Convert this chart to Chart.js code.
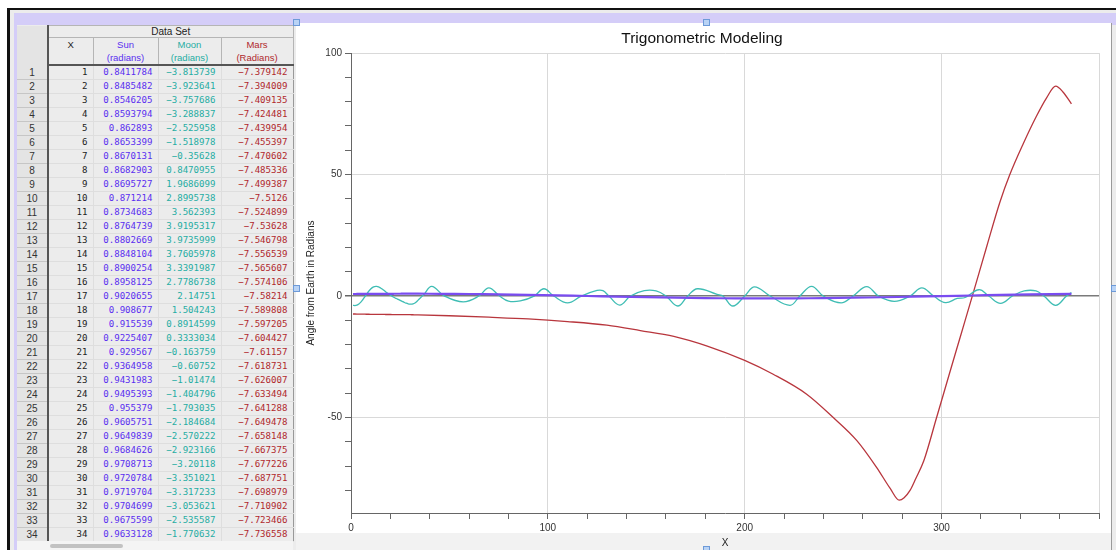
<!DOCTYPE html>
<html lang="en">
<head>
<meta charset="UTF-8">
<title>Trigonometric Modeling</title>
<style>
    body {
        margin: 0;
        width: 1116px;
        height: 550px;
        overflow: hidden;
        background: #fff;
        position: relative;
        font-family: "Liberation Sans", Arial, sans-serif;
    }
    .abs { position: absolute; }
    #frameTop { left: 7px; top: 8px; width: 1109px; height: 2px; background: #111; }
    #frameLeft { left: 7px; top: 8px; width: 3px; height: 542px; background: #111; }
    #bg { left: 10px; top: 10px; width: 1106px; height: 540px; background: #ececec; }
    #bandTop { left: 14px; top: 13px; width: 1102px; height: 12px; background: #d4cdf8; }
    #bandLeft { left: 14px; top: 13px; width: 3px; height: 537px; background: #d4cdf8; }
    #panel { left: 296px; top: 23px; width: 816px; height: 510px; background: #fff; }
    #panelFoot { left: 296px; top: 533px; width: 816px; height: 17px; background: #f2f2f2; }
    #panelEdge { left: 1111px; top: 23px; width: 1px; height: 527px; background: #9a9a9a; }
    #chartBox { left: 297px; top: 23px; width: 815px; height: 527px; }
    #sheet { left: 17px; top: 25px; }
    #scroll { left: 17px; top: 541px; width: 276px; height: 9px; background: #f4f4f4; }
    #thumb { left: 50px; top: 544px; width: 73px; height: 4px; background: #c2c2c2; border-radius: 2px; }
    .handle { width: 5px; height: 5px; background: #b9d3f5; border: 1px solid #6d9ad8; }

    table { border-collapse: collapse; table-layout: fixed; }
    td, th { overflow: hidden; white-space: nowrap; padding: 0; }
    th { background: #ececec; font-weight: normal; font-size: 9.5px; color: #222; border: 1px solid #b5b5b5; }
    th.set { height: 11px; font-size: 10px; line-height: 11px; }
    th.col { height: 26px; line-height: 13px; border-bottom: 2px solid #555; }
    th.corner { background: #e4e4e4; border: none; border-right: 2px solid #555; }
    tr.row { height: 14px; }
    td.num { background: #e4e4e4; text-align: center; font-size: 10px; color: #333;
             border-bottom: 1px solid #c6c6c6; border-right: 2px solid #555; }
    td.val { text-align: right; padding-right: 5px; font-family: "DejaVu Sans Mono", monospace;
             font-size: 9.1px; border: 1px solid #dedede; line-height: 13px; }
    .cx { color: #222; }
    .cs { color: #5a2ff0; }
    .cm { color: #26aca3; }
    .cr { color: #b0282c; }
    td.last { border-right: 1px solid #999; }
</style>
<script src="https://cdn.jsdelivr.net/npm/chart.js"></script>
</head>
<body>

<div class="abs" id="frameTop"></div>
<div class="abs" id="bg"></div>
<div class="abs" id="bandTop"></div>
<div class="abs" id="bandLeft"></div>
<div class="abs" id="frameLeft"></div>
<div class="abs" id="panel"></div>
<div class="abs" id="panelFoot"></div>
<div class="abs" id="panelEdge"></div>

<div class="abs" id="sheet"></div>
<div class="abs" id="scroll"></div>
<div class="abs" id="thumb"></div>

<div class="abs" id="chartBox"><canvas id="chart"></canvas></div>

<div class="abs handle" style="left:293px; top:19px;"></div>
<div class="abs handle" style="left:703px; top:19px;"></div>
<div class="abs handle" style="left:293px; top:285px;"></div>
<div class="abs handle" style="left:1111px; top:285px;"></div>
<div class="abs handle" style="left:703px; top:546px;"></div>

<script>
// table rows (days 1-34), as shown in the data set
const dayTable = [1, 2, 3, 4, 5, 6, 7, 8, 9, 10, 11, 12, 13, 14, 15, 16, 17,
                  18, 19, 20, 21, 22, 23, 24, 25, 26, 27, 28, 29, 30, 31, 32, 33, 34];
const sunTable = [0.8411784, 0.8485482, 0.8546205, 0.8593794, 0.862893, 0.8653399, 0.8670131,
                  0.8682903, 0.8695727, 0.871214, 0.8734683, 0.8764739, 0.8802669, 0.8848104,
                  0.8900254, 0.8958125, 0.9020655, 0.908677, 0.915539, 0.9225407, 0.929567,
                  0.9364958, 0.9431983, 0.9495393, 0.955379, 0.9605751, 0.9649839, 0.9684626,
                  0.9708713, 0.9720784, 0.9719704, 0.9704699, 0.9675599, 0.9633128];
const moonTable = [-3.813739, -3.923641, -3.757686, -3.288837, -2.525958, -1.518978, -0.35628,
                   0.8470955, 1.9686099, 2.8995738, 3.562393, 3.9195317, 3.9735999, 3.7605978,
                   3.3391987, 2.7786738, 2.14751, 1.504243, 0.8914599, 0.3333034, -0.163759,
                   -0.60752, -1.01474, -1.404796, -1.793035, -2.184684, -2.570222, -2.923166,
                   -3.20118, -3.351021, -3.317233, -3.053621, -2.535587, -1.770632];
const marsTable = [-7.379142, -7.394009, -7.409135, -7.424481, -7.439954, -7.455397, -7.470602,
                   -7.485336, -7.499387, -7.5126, -7.524899, -7.53628, -7.546798, -7.556539,
                   -7.565607, -7.574106, -7.58214, -7.589808, -7.597205, -7.604427, -7.61157,
                   -7.618731, -7.626007, -7.633494, -7.641288, -7.649478, -7.658148, -7.667375,
                   -7.677226, -7.687751, -7.698979, -7.710902, -7.723466, -7.736558];

// rest of the year
const sunDays = [45, 60, 75, 90, 105, 120, 135, 150, 165, 180, 195, 210, 225, 240, 255, 270, 285, 300, 315, 330, 345, 366];
const sunRest = [0.93, 0.84, 0.70, 0.51, 0.27, 0.02, -0.24, -0.47, -0.68, -0.84, -0.94, -0.97, -0.94, -0.84,
                 -0.69, -0.49, -0.27, -0.03, 0.22, 0.47, 0.70, 0.90];

const moonDays = [37, 41, 47.5, 57, 65, 70, 75.5, 80, 86, 93, 98, 103, 110, 117, 125, 128, 131, 136.5,
                  142, 149, 155, 160, 166, 171, 176, 186, 189, 194, 200, 205, 213, 223, 228, 234, 240,
                  249, 255, 262, 268, 276, 284, 290, 296, 302, 308, 312, 319, 324, 330, 336, 342, 348,
                  352, 358, 363.5, 366];
const moonRest = [0.6, 4.0, 0, -2.4, 0, 3.4, 0, -2.1, -2.0, 0, 3.0, 0, -2.8, 0, 2.3, 2.2, 0, -3.7,
                  0, 2.2, 2.1, 0, -4.1, 0, 3.0, 0.7, 0, -4.1, 0, 3.8, 0, -3.8, 0, 4.0, 0,
                  -2.8, 0, 3.9, 0, -2.2, 0, 3.4, 0, -2.7, -1.0, -0.6, 2.6, 0, -3.0, 0, 2.1, 2.1,
                  0, -3.8, 0, 1.4];

const marsDays = [50, 70, 90, 110, 130, 147, 164, 181, 200, 214.5, 231.5, 245, 257, 267, 274, 278.5,
                  281, 284, 287, 291, 297.5, 304, 310, 316, 323, 329.6, 334.7, 341.4, 348.2, 353.3,
                  358, 361.7, 366];
const marsRest = [-8.1, -8.7, -9.4, -10.5, -12.0, -14.2, -16.6, -20.6, -26.5, -32.2, -40.4, -50, -59.5,
                  -70.5, -79.3, -84, -83, -80, -75, -67.8, -50, -32, -15.5, 1, 20.5, 38.5, 50,
                  62.5, 74, 81.5, 86.4, 84, 79.1];

const xTickLabels = [0, 100, 200, 300];
const yTickLabels = [-50, 0, 50, 100];

function fmt(v) {
    return String(v).replace('-', '\u2212');
}

function buildSheet() {
    let html = `
        <table>
            <colgroup>
                <col style="width:31px"><col style="width:45px"><col style="width:65px">
                <col style="width:63px"><col style="width:72px">
            </colgroup>
            <tr><th class="corner" rowspan="2"></th><th class="set" colspan="4">Data Set</th></tr>
            <tr>
                <th class="col cx">X<br>&nbsp;</th>
                <th class="col cs">Sun<br>(radians)</th>
                <th class="col cm">Moon<br>(radians)</th>
                <th class="col cr">Mars<br>(Radians)</th>
            </tr>
    `;
    dayTable.forEach((d, i) => {
        html += `
            <tr class="row">
                <td class="num">${d}</td>
                <td class="val cx">${d}</td>
                <td class="val cs">${fmt(sunTable[i])}</td>
                <td class="val cm">${fmt(moonTable[i])}</td>
                <td class="val cr last">${fmt(marsTable[i])}</td>
            </tr>
        `;
    });
    html += `</table>`;
    document.getElementById('sheet').innerHTML = html;
}

function points(days, values, moreDays, moreValues) {
    const pts = days.map((d, i) => ({ x: d, y: values[i] }));
    return pts.concat(moreDays.map((d, i) => ({ x: d, y: moreValues[i] })));
}

function isStep(v, step) {
    return Math.abs(v / step - Math.round(v / step)) < 1e-6;
}

buildSheet();

const fontFamily = "Liberation Sans, Arial, sans-serif";
const tickFont = { family: fontFamily, size: 10 };

new Chart(document.getElementById('chart').getContext('2d'), {
    type: 'line',
    data: {
        datasets: [{
            label: 'Sun',
            data: points(dayTable, sunTable, sunDays, sunRest),
            borderColor: '#7a4cf0',
            borderWidth: 2.2,
            pointRadius: 0,
            tension: 0.4
        }, {
            label: 'Moon',
            data: points(dayTable, moonTable, moonDays, moonRest),
            borderColor: '#3fbdb4',
            borderWidth: 1.3,
            pointRadius: 0,
            tension: 0.4
        }, {
            label: 'Mars',
            data: points(dayTable, marsTable, marsDays, marsRest),
            borderColor: '#b8363d',
            borderWidth: 1.3,
            pointRadius: 0,
            cubicInterpolationMode: 'monotone'
        }]
    },
    options: {
        responsive: true,
        maintainAspectRatio: false,
        animation: false,
        layout: { padding: { left: 8, right: 13 } },
        plugins: {
            legend: { display: false },
            tooltip: { enabled: false },
            title: {
                display: true,
                text: 'Trigonometric Modeling',
                color: '#111',
                font: { family: fontFamily, size: 15.5, weight: 'normal' },
                padding: { top: 6, bottom: 5.5 }
            }
        },
        scales: {
            x: {
                type: 'linear',
                min: 0,
                max: 380,
                ticks: {
                    stepSize: 20,
                    autoSkip: false,
                    maxRotation: 0,
                    padding: 3,
                    color: '#333',
                    font: tickFont,
                    callback: v => xTickLabels.includes(v) ? String(v) : ''
                },
                grid: {
                    color: c => (c.tick && ((c.tick.value > 0 && xTickLabels.includes(c.tick.value)) || c.tick.value === 380))
                        ? '#d9d9d9' : 'rgba(0,0,0,0)',
                    tickColor: '#666',
                    tickLength: 6
                },
                border: { color: '#666', width: 1 },
                title: {
                    display: true,
                    text: 'X',
                    color: '#222',
                    font: { family: fontFamily, size: 10 },
                    padding: { top: 0, bottom: 1 }
                },
                afterFit: s => { s.height = 37; }
            },
            y: {
                min: -89.3,
                max: 100,
                ticks: {
                    stepSize: 10,
                    autoSkip: false,
                    padding: 3,
                    color: '#333',
                    font: tickFont,
                    callback: v => yTickLabels.includes(v) ? String(v) : ''
                },
                afterBuildTicks: s => {
                    s.ticks = s.ticks.filter(t => isStep(t.value, 10));
                },
                grid: {
                    color: c => {
                        if (!c.tick) return 'rgba(0,0,0,0)';
                        if (c.tick.value === 0) return '#7a7a7a';
                        return yTickLabels.includes(c.tick.value) ? '#d9d9d9' : 'rgba(0,0,0,0)';
                    },
                    lineWidth: c => (c.tick && c.tick.value === 0) ? 1.5 : 1,
                    tickColor: '#666',
                    tickLength: 6
                },
                border: { color: '#666', width: 1 },
                title: {
                    display: true,
                    text: 'Angle from Earth in Radians',
                    color: '#222',
                    font: { family: fontFamily, size: 10 },
                    padding: { top: 0, bottom: 0 }
                },
                afterFit: s => { s.width = 46; }
            }
        }
    }
});
</script>

</body>
</html>
